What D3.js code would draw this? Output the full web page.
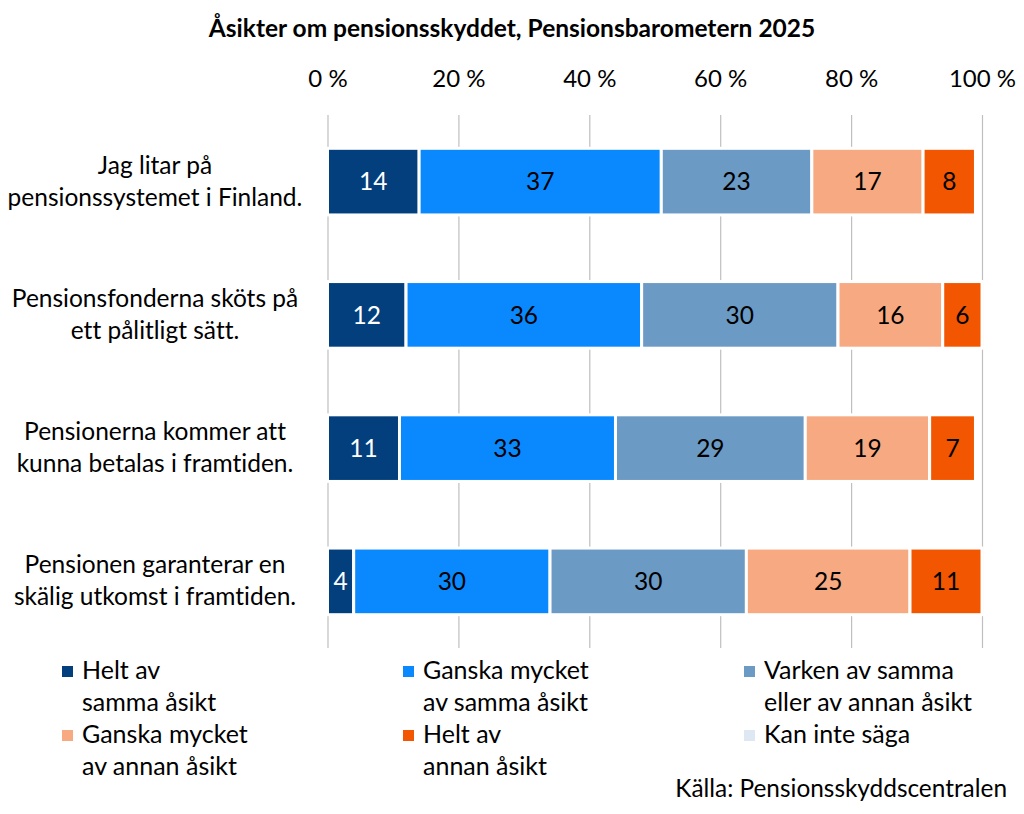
<!DOCTYPE html>
<html>
<head>
<meta charset="utf-8">
<script src="https://cdn.jsdelivr.net/npm/d3@7"></script>
<style>
  body { margin: 0; background: #fff; }
  text { font-family: Lato, "Open Sans", sans-serif; font-variant-ligatures: none; font-feature-settings: "liga" 0, "clig" 0; }
</style>
</head>
<body>
<svg id="chart" width="1024" height="814"></svg>
<script>
// data
const questions = [
    ["Jag litar på", "pensionssystemet i Finland."],
    ["Pensionsfonderna sköts på", "ett pålitligt sätt."],
    ["Pensionerna kommer att", "kunna betalas i framtiden."],
    ["Pensionen garanterar en", "skälig utkomst i framtiden."]
];
const heltSamma = [14, 12, 11, 4];
const ganskaSamma = [37, 36, 33, 30];
const varken = [23, 30, 29, 30];
const ganskaAnnan = [17, 16, 19, 25];
const heltAnnan = [8, 6, 7, 11];
const kanInte = [0, 0, 0, 0];
const tickValues = [0, 20, 40, 60, 80, 100];

const seriesNames = [
    ["Helt av", "samma åsikt"],
    ["Ganska mycket", "av samma åsikt"],
    ["Varken av samma", "eller av annan åsikt"],
    ["Ganska mycket", "av annan åsikt"],
    ["Helt av", "annan åsikt"],
    ["Kan inte säga"]
];
const colors = ["#023f7c", "#0a89fe", "#6b9ac4", "#f7aa82", "#f25600", "#dde8f2"];
const textColors = ["#fff", "#000", "#000", "#000", "#000", "#000"];

const allSeries = [heltSamma, ganskaSamma, varken, ganskaAnnan, heltAnnan, kanInte];

let rows = questions.map((q, i) => {
    let r = { key: i };
    allSeries.forEach((s, j) => r["s" + j] = s[i]);
    return r;
});
const keys = allSeries.map((s, j) => "s" + j);
const stacked = d3.stack().keys(keys)(rows);

const svg = d3.select("#chart");
const plotL = 327.5, plotR = 982, plotT = 115, plotB = 648;

let x = d3.scaleLinear().domain([0, 100]).range([plotL, plotR]);
let y = d3.scaleBand().domain(d3.range(questions.length)).range([plotT, plotB]).paddingInner(0.5).paddingOuter(0.25);

// title
svg.append("text")
   .attr("x", 512)
   .attr("y", 37)
   .attr("text-anchor", "middle")
   .attr("font-weight", "bold")
   .attr("font-size", 24.5)
   .text("Åsikter om pensionsskyddet, Pensionsbarometern 2025");

// grid + tick labels
let xAxis = svg.append("g")
   .attr("transform", `translate(0,${plotT})`)
   .call(d3.axisTop(x).tickValues(tickValues).tickSize(-(plotB - plotT)).tickPadding(28).tickFormat(d => d + " %"));
xAxis.select(".domain").remove();
xAxis.selectAll("line").attr("stroke", "#bfbfbf").attr("stroke-width", 1.2);
xAxis.selectAll("text").attr("font-size", 24).attr("fill", "#000").style("font-family", "Lato");

// bars
let groups = svg.append("g")
   .selectAll("g")
   .data(stacked)
   .join("g")
   .attr("fill", (d, i) => colors[i]);

groups.selectAll("rect")
   .data(d => d)
   .join("rect")
   .attr("x", d => x(d[0]))
   .attr("y", (d, i) => y(i))
   .attr("width", d => x(d[1]) - x(d[0]))
   .attr("height", y.bandwidth())
   .attr("stroke", "#fff")
   .attr("stroke-width", 3);

groups.each(function (s, si) {
    d3.select(this).selectAll("text")
      .data(s.map((d, i) => ({ d: d, i: i })).filter(e => e.d[1] - e.d[0] > 0))
      .join("text")
      .attr("x", e => (x(e.d[0]) + x(e.d[1])) / 2)
      .attr("y", e => y(e.i) + y.bandwidth() / 2)
      .attr("dy", "0.36em")
      .attr("text-anchor", "middle")
      .attr("font-size", 24.5)
      .attr("fill", textColors[si])
      .text(e => e.d[1] - e.d[0]);
});

// category labels
questions.forEach((q, i) => {
    let t = svg.append("text")
       .attr("text-anchor", "middle")
       .attr("font-size", 24.5)
       .attr("x", 155)
       .attr("y", y(i) + y.bandwidth() / 2 - 8);
    q.forEach((line, k) => {
        t.append("tspan")
         .attr("x", 155)
         .attr("dy", k === 0 ? 0 : 32)
         .text(line);
    });
});

// legend
let legend = svg.append("g");
seriesNames.forEach((name, i) => {
    const col = i % 3, row = Math.floor(i / 3);
    const lx = 62 + col * 341, ly = 666 + row * 64;
    legend.append("rect")
          .attr("x", lx)
          .attr("y", ly)
          .attr("width", 11)
          .attr("height", 11)
          .attr("fill", colors[i]);
    let t = legend.append("text")
          .attr("font-size", 25)
          .attr("x", lx + 20)
          .attr("y", ly + 13);
    name.forEach((line, k) => {
        t.append("tspan")
         .attr("x", lx + 20)
         .attr("dy", k === 0 ? 0 : 32)
         .text(line);
    });
});

svg.append("text")
   .attr("x", 1007)
   .attr("y", 797)
   .attr("text-anchor", "end")
   .attr("font-size", 24.4)
   .text("Källa: Pensionsskyddscentralen");
</script>
</body>
</html>
